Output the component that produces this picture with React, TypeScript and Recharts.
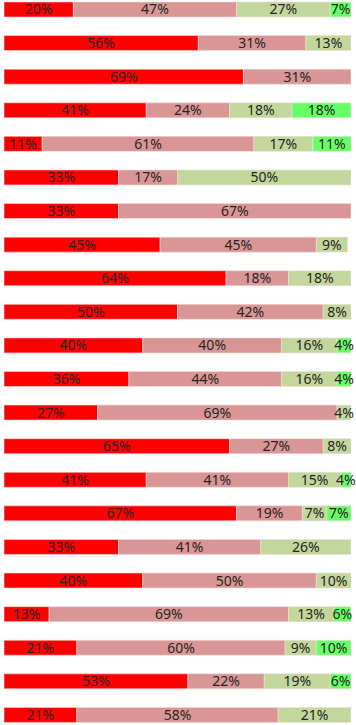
import { Bar, BarChart, LabelList, XAxis, YAxis } from "recharts";

// one entry per row, top to bottom (percent of answers)
const ROWS = ["1","2","3","4","5","6","7","8","9","10","11","12","13","14","15","16","17","18","19","20","21","22"];
const RED = [20, 56, 69, 41, 11, 33, 33, 45, 64, 50, 40, 36, 27, 65, 41, 67, 33, 40, 13, 21, 53, 21];
const PINK = [47, 31, 31, 24, 61, 17, 67, 45, 18, 42, 40, 44, 69, 27, 41, 19, 41, 50, 69, 60, 22, 58];
const LIGHT_GREEN = [27, 13, 0, 18, 17, 50, 0, 9, 18, 8, 16, 16, 4, 8, 15, 7, 26, 10, 13, 9, 19, 21];
const GREEN = [7, 0, 0, 18, 11, 0, 0, 0, 0, 0, 4, 4, 0, 0, 4, 7, 0, 0, 6, 10, 6, 0];

const SERIES = [
  { key: "red", color: "#ff0000" },
  { key: "pink", color: "#d99694" },
  { key: "lightGreen", color: "#c3d69b" },
  { key: "green", color: "#66ff66" },
];

const data = ROWS.map((r, i) => ({
  row: r,
  red: RED[i],
  pink: PINK[i],
  lightGreen: LIGHT_GREEN[i],
  green: GREEN[i],
}));

const fmt = (v: any) => (v ? `${v}%` : "");

export default function App() {
  return (
    <div style={{ position: "absolute", left: 0, top: -7, width: 356, height: 739 }}>
      <BarChart
        width={356}
        height={739}
        data={data}
        layout="vertical"
        margin={{ top: 0, right: 5, bottom: 0, left: 4 }}
        barSize={15}
      >
        <XAxis type="number" domain={[0, 100]} hide allowDataOverflow />
        <YAxis type="category" dataKey="row" hide />
        {SERIES.map((s) => (
          <Bar
            key={s.key}
            dataKey={s.key}
            stackId="a"
            fill={s.color}
            stroke="#f4dede"
            strokeWidth={0.6}
            isAnimationActive={false}
          >
            <LabelList
              dataKey={s.key}
              position="center"
              formatter={fmt}
              style={{ fontFamily: "Noto Sans", fontSize: 14, fill: "#262626" }}
            />
          </Bar>
        ))}
      </BarChart>
    </div>
  );
}
